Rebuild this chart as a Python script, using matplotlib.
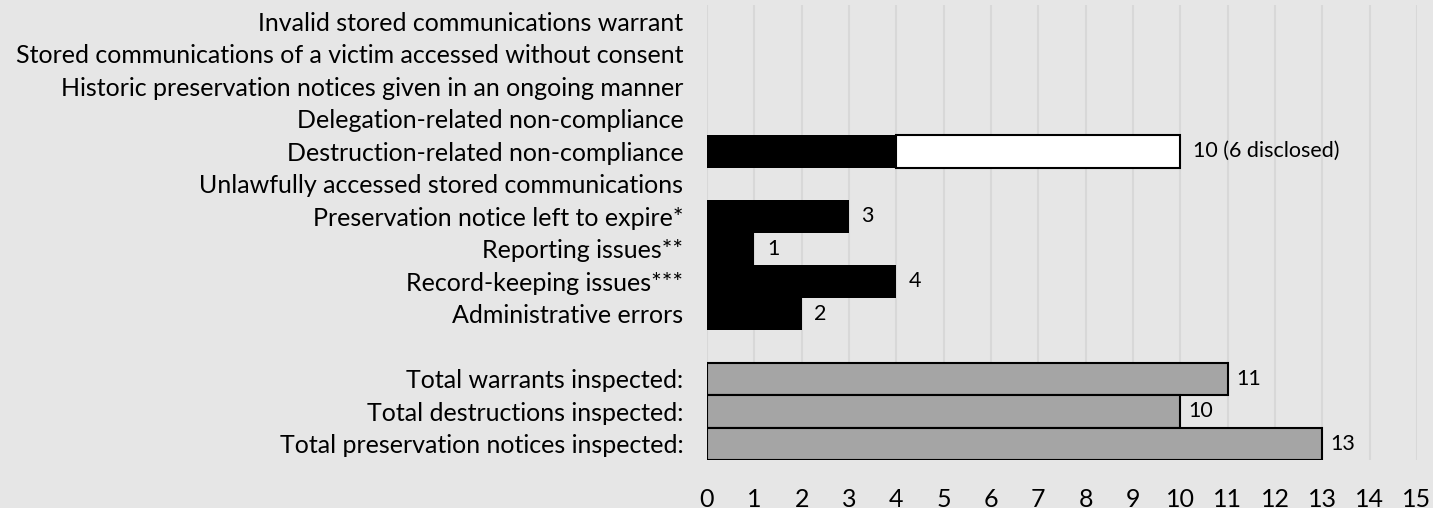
import matplotlib.pyplot as plt

plt.rcParams['font.family'] = ['Lato', 'DejaVu Sans']

issue_labels = ['Invalid stored communications warrant',
                'Stored communications of a victim accessed without consent',
                'Historic preservation notices given in an ongoing manner',
                'Delegation-related non-compliance',
                'Destruction-related non-compliance',
                'Unlawfully accessed stored communications',
                'Preservation notice left to expire*',
                'Reporting issues**',
                'Record-keeping issues***',
                'Administrative errors']
issue_black = [0, 0, 0, 0, 4, 0, 3, 1, 4, 2]
issue_white = [0, 0, 0, 0, 6, 0, 0, 0, 0, 0]
issue_text = ['', '', '', '', '10 (6 disclosed)', '', '3', '1', '4', '2']

total_labels = ['Total warrants inspected:',
                'Total destructions inspected:',
                'Total preservation notices inspected:']
total_values = [11, 10, 13]

bg = '#e6e6e6'
fig = plt.figure(figsize=(14.33, 5.08), dpi=100, facecolor=bg)
ax = fig.add_axes([707/1433, 1-460/508, 710/1433, 455/508], facecolor=bg)

n_issue = len(issue_labels)
y_issue = list(range(n_issue))
y_total = [n_issue + 1 + i for i in range(len(total_labels))]

# issue bars
for y, b, w, t in zip(y_issue, issue_black, issue_white, issue_text):
    if b > 0:
        ax.barh(y, b, height=1.0, color='black', linewidth=0, zorder=3)
    if w > 0:
        ax.barh(y, w, left=b, height=1.0, color='white', edgecolor='black',
                linewidth=1.5, zorder=3)
    if t:
        ax.annotate(t, (b + w, y), xytext=(9, 0), textcoords='offset points',
                    va='center', ha='left', fontsize=15.5, color='black')

# totals
for y, v in zip(y_total, total_values):
    ax.barh(y, v, height=1.0, color='#a5a5a5', edgecolor='black',
            linewidth=1.5, zorder=3)
    ax.annotate(str(v), (v, y), xytext=(6, 0), textcoords='offset points',
                va='center', ha='left', fontsize=15.5, color='black')

ax.set_yticks(y_issue + y_total)
ax.set_yticklabels(issue_labels + total_labels, fontsize=18)
ax.set_ylim(y_total[-1] + 0.5, -0.5)
ax.set_xlim(0, 15)
ax.set_xticks(range(0, 16))
ax.tick_params(axis='x', labelsize=18, length=0, pad=20)
ax.tick_params(axis='y', length=0, pad=17)
ax.grid(axis='x', color='#d8d8d8', linewidth=1.5, zorder=0)
for s in ax.spines.values():
    s.set_visible(False)

fig.savefig('out.png', dpi=100, facecolor=bg)
